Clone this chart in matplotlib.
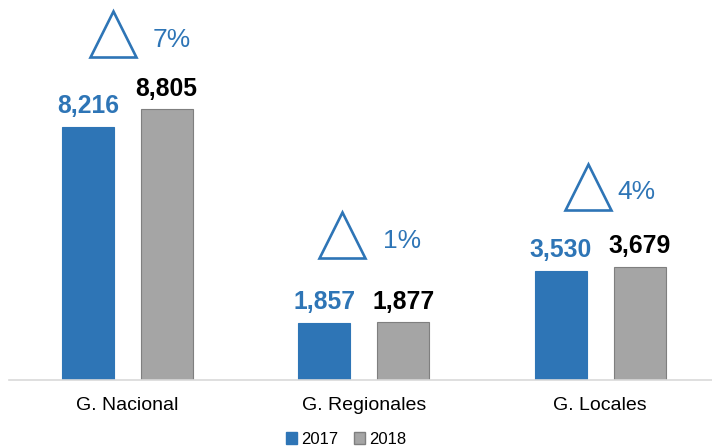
import matplotlib
matplotlib.use("Agg")
import matplotlib.pyplot as plt
from matplotlib.patches import Patch
import numpy as np

plt.rcParams['font.family'] = ['Liberation Sans', 'DejaVu Sans']

categories = ["G. Nacional", "G. Regionales", "G. Locales"]
series_names = ["2017", "2018"]
values_2017 = [8216, 1857, 3530]
values_2018 = [8805, 1877, 3679]

BLUE = "#2E75B6"
GRAY = "#A5A5A5"
GRAY_EDGE = "#7F7F7F"

fig = plt.figure(figsize=(7.12, 4.48), dpi=100)
ax = fig.add_axes([9/712, 68/448, 709.5/712, 380/448])

x = np.arange(len(categories))
w = 0.22
off = 0.167
ax.bar(x - off, values_2017, w, color=BLUE, edgecolor=BLUE, linewidth=0.8)
ax.bar(x + off, values_2018, w, color=GRAY, edgecolor=GRAY_EDGE, linewidth=0.8)

for xi, v in zip(x, values_2017):
    ax.annotate(f"{v:,}", (xi - off, v), xytext=(0, 10), textcoords="offset points",
                ha="center", va="baseline", fontsize=17.8, fontweight="bold", color=BLUE)
for xi, v in zip(x, values_2018):
    ax.annotate(f"{v:,}", (xi + off, v), xytext=(0, 9.5), textcoords="offset points",
                ha="center", va="baseline", fontsize=17.8, fontweight="bold", color="black")

# growth annotations (triangle + percentage)
tri_dx = [-0.06, -0.093, -0.05]
tri_y = [11218, 4708, 6266]
pct_dx = [0.106, 0.08, 0.072]
pct_y = [11039, 4513, 6104]
for i, (a, b) in enumerate(zip(values_2017, values_2018)):
    ax.plot([x[i] + tri_dx[i]], [tri_y[i]], marker="^", markersize=33,
            markerfacecolor="none", markeredgecolor=BLUE, markeredgewidth=1.9,
            linestyle="none", clip_on=False)
    pct = round((b / a - 1) * 100)
    ax.text(x[i] + pct_dx[i], pct_y[i], f"{pct}%", ha="left", va="center",
            fontsize=19, color=BLUE)

ax.set_xlim(-0.5, 2.5)
ax.set_ylim(0, 12338)
ax.set_yticks([])
ax.set_xticks(x)
ax.set_xticklabels(categories, fontsize=14)
ax.tick_params(axis="x", length=0, pad=12, colors="black")
for s in ["top", "left", "right"]:
    ax.spines[s].set_visible(False)
ax.spines["bottom"].set_color("#D9D9D9")
ax.spines["bottom"].set_linewidth(1.2)

handles = [Patch(facecolor=BLUE, edgecolor=BLUE),
           Patch(facecolor=GRAY, edgecolor=GRAY_EDGE)]
fig.legend(handles, series_names, loc="center", bbox_to_anchor=(346/712, 1 - 439/448),
           ncol=2, frameon=False, fontsize=12, handlelength=0.7, handleheight=0.75,
           handletextpad=0.25, columnspacing=0.9, borderpad=0)

fig.savefig("out.png", dpi=100)
